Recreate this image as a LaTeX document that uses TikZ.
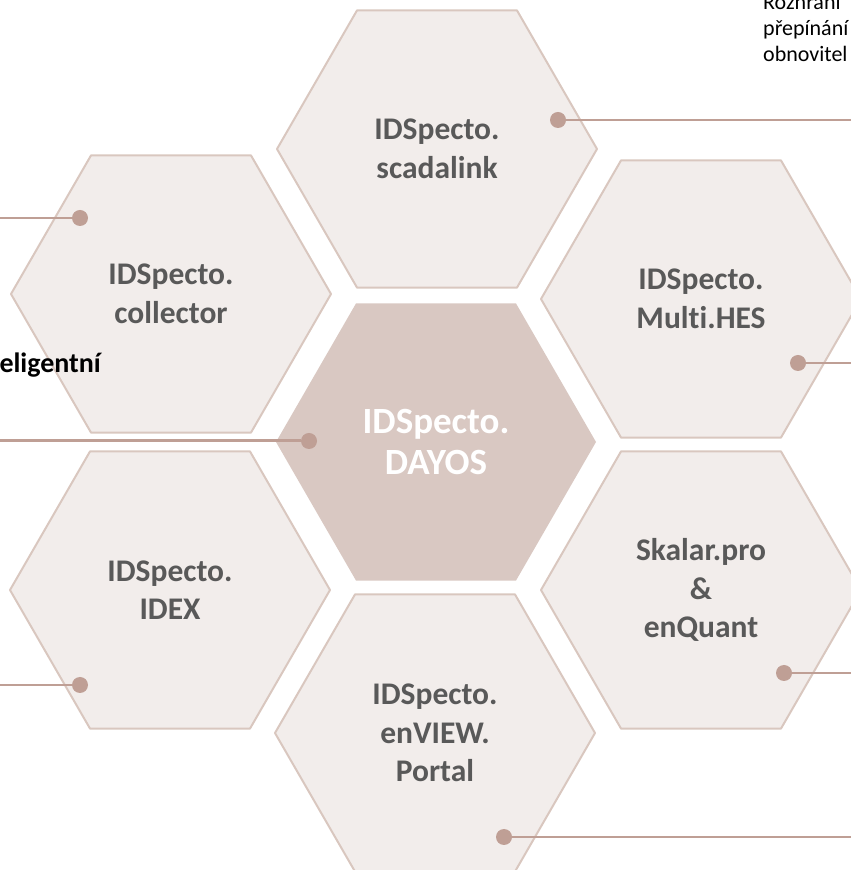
\documentclass[tikz,border=0pt]{standalone}
\usepackage{fontspec}
\setmainfont{Carlito}[Ligatures=NoCommon]
\usetikzlibrary{shapes.geometric}
\definecolor{hexfill}{HTML}{F2EDEB}
\definecolor{hexline}{HTML}{D9C7BF}
\definecolor{corefill}{HTML}{D9C8C2}
\definecolor{dotcol}{HTML}{BF9F95}
\definecolor{labelgray}{HTML}{595959}
\begin{document}
\begin{tikzpicture}[>=latex,line join=bevel,
  hexcell/.style={regular polygon,regular polygon sides=6,minimum size=320bp,inner sep=0pt,outer sep=0pt,
    fill=hexfill,draw=hexline,line width=2bp,text=labelgray,align=center,
    font=\fontsize{31.5bp}{38.5bp}\selectfont\bfseries},
  hexcore/.style={hexcell,fill=corefill,draw=none,text=white,
    font=\fontsize{37bp}{41bp}\selectfont\bfseries},
  dot/.style={circle,fill=dotcol,inner sep=0pt,minimum size=16bp},
  link/.style={draw=dotcol,line width=1.5bp},
  note/.style={anchor=base west,inner sep=0pt,font=\fontsize{22bp}{27bp}\selectfont},
  ]
\clip (0bp,0bp) rectangle (851bp,870bp);
%%
\node (node_0) at (436bp,428bp) [hexcore] {IDSpecto.\\DAYOS};
  \node (node_1) at (437bp,721bp) [hexcell] {IDSpecto.\\scadalink};
  \node (node_2) at (171bp,576bp) [hexcell] {IDSpecto.\\collector};
  \node (node_3) at (701bp,571bp) [hexcell] {IDSpecto.\\Multi.HES};
  \node (node_4) at (170bp,280bp) [hexcell] {IDSpecto.\\IDEX};
  \node (node_5) at (701bp,280bp) [hexcell] {Skalar.pro\\\&\\enQuant};
  \node (node_6) at (435bp,137bp) [hexcell] {IDSpecto.\\enVIEW.\\Portal};
%
\node (note_0) at (763bp,860bp) [note] {Rozhraní};
  \node (note_1) at (763bp,834bp) [note] {přepínání};
  \node (note_2) at (763bp,808bp) [note] {obnovitel};
  \node (note_3) at (101bp,497bp) [anchor=base east,inner sep=0pt,font=\fontsize{28bp}{32bp}\selectfont\bfseries] {eligentní};
%
\coordinate (end_0) at (0bp,429bp);
  \coordinate (end_1) at (851bp,750bp);
  \coordinate (end_2) at (0bp,652bp);
  \coordinate (end_3) at (851bp,507bp);
  \coordinate (end_4) at (0bp,185bp);
  \coordinate (end_5) at (851bp,197bp);
  \coordinate (end_6) at (851bp,33bp);
\node (dot_0) at (309bp,429bp) [dot] {};
  \node (dot_1) at (558bp,750bp) [dot] {};
  \node (dot_2) at (80bp,652bp) [dot] {};
  \node (dot_3) at (798bp,507bp) [dot] {};
  \node (dot_4) at (80bp,185bp) [dot] {};
  \node (dot_5) at (784bp,197bp) [dot] {};
  \node (dot_6) at (504bp,33bp) [dot] {};
\draw [link,line width=3bp] (dot_0) -- (end_0);
  \draw [link] (dot_1) -- (end_1);
  \draw [link] (dot_2) -- (end_2);
  \draw [link] (dot_3) -- (end_3);
  \draw [link] (dot_4) -- (end_4);
  \draw [link] (dot_5) -- (end_5);
  \draw [link] (dot_6) -- (end_6);
%
\end{tikzpicture}
\end{document}
